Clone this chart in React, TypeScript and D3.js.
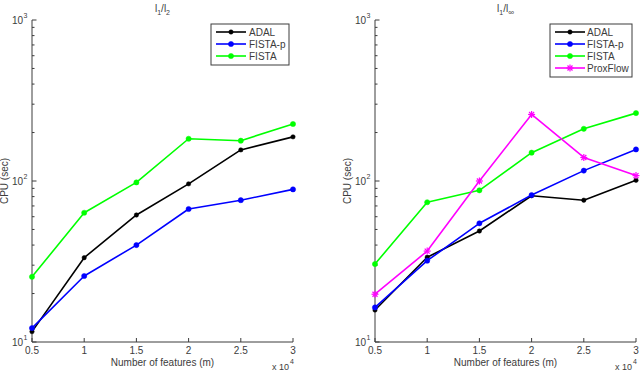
import React from "react";
import * as d3 from "d3";

const features = [5000, 10000, 15000, 20000, 25000, 30000];
const xTickLabels = ["0.5", "1", "1.5", "2", "2.5", "3"];

// l1/l2 panel
const l2ADAL = [11.6, 33.4, 61.5, 96, 156, 188];
const l2FISTAp = [12.2, 25.7, 40, 67, 76, 88.7];
const l2FISTA = [25.4, 63.5, 98, 183, 178, 226];

// l1/linf panel
const liADAL = [15.8, 33.6, 48.9, 81, 76, 101];
const liFISTAp = [16.4, 32, 54.6, 81.8, 116, 157];
const liFISTA = [30.5, 73.8, 87.5, 150, 211, 264];
const liProxFlow = [19.8, 36.7, 100, 259, 140, 108];

const COLORS: Record<string, string> = {
  ADAL: "#000000",
  "FISTA-p": "#0000ff",
  FISTA: "#00ff00",
  ProxFlow: "#ff00ff",
};

type Series = { name: string; values: number[] };

const FONT = "Liberation Sans, Arial, Helvetica, sans-serif";
const AX = "#3c3c3c";

function Marker({ x, y, name }: { x: number; y: number; name: string }) {
  const c = COLORS[name];
  if (name === "ProxFlow") {
    const s = 3.5;
    return (
      <g stroke={c} strokeWidth={1.2}>
        <line x1={x - s} y1={y} x2={x + s} y2={y} />
        <line x1={x} y1={y - s} x2={x} y2={y + s} />
        <line x1={x - 2.5} y1={y - 2.5} x2={x + 2.5} y2={y + 2.5} />
        <line x1={x - 2.5} y1={y + 2.5} x2={x + 2.5} y2={y - 2.5} />
      </g>
    );
  }
  const r = name === "ADAL" ? 2.2 : 2.6;
  return <circle cx={x} cy={y} r={r} fill={c} stroke={c} strokeWidth={0.5} />;
}

function Panel({
  x0,
  x1,
  series,
  title,
  legendBox,
}: {
  x0: number;
  x1: number;
  series: Series[];
  title: React.ReactNode;
  legendBox: { x: number; w: number; lineX1: number; lineX2: number; textX: number };
}) {
  const yTop = 20;
  const yBot = 342;
  const xs = d3.scaleLinear().domain([5000, 30000]).range([x0, x1]);
  const ys = d3.scaleLog().domain([10, 1000]).range([yBot, yTop]);
  const line = d3
    .line<number>()
    .x((_, i) => xs(features[i]))
    .y((v) => ys(v));

  const minorTicks: number[] = [];
  for (const dec of [10, 100]) for (let k = 2; k <= 9; k++) minorTicks.push(dec * k);
  const majorTicks = [10, 100, 1000];
  const exps = ["1", "2", "3"];

  const legTop = 24;
  const rowH = 12;
  const legH = series.length * rowH + 5;
  const midX = (x0 + x1) / 2;

  return (
    <g fontFamily={FONT}>
      {/* axes */}
      <line x1={x0} y1={yTop} x2={x0} y2={yBot} stroke={AX} strokeWidth={1} />
      <line x1={x0} y1={yBot} x2={x1} y2={yBot} stroke={AX} strokeWidth={1} />
      {features.map((f, i) => (
        <g key={"xt" + i}>
          <line x1={xs(f)} y1={yBot} x2={xs(f)} y2={yBot - 4} stroke={AX} />
          <text x={xs(f)} y={yBot + 12} fontSize={10} textAnchor="middle" fill={AX}>
            {xTickLabels[i]}
          </text>
        </g>
      ))}
      {minorTicks.map((t) => (
        <line key={"mt" + t} x1={x0} y1={ys(t)} x2={x0 + 2.5} y2={ys(t)} stroke={AX} />
      ))}
      {majorTicks.map((t, i) => (
        <g key={"yt" + t}>
          <line x1={x0} y1={ys(t)} x2={x0 + 4.5} y2={ys(t)} stroke={AX} />
          <text x={x0 - 9} y={ys(t) + 3.5} fontSize={10} textAnchor="end" fill={AX}>
            10
          </text>
          <text x={x0 - 8.5} y={ys(t) - 2.5} fontSize={7} textAnchor="start" fill={AX}>
            {exps[i]}
          </text>
        </g>
      ))}
      <text
        transform={`translate(${x0 - 24},${ys(100)}) rotate(-90)`}
        fontSize={10}
        textAnchor="middle"
        fill={AX}
      >
        CPU (sec)
      </text>
      <text x={midX} y={366} fontSize={10} textAnchor="middle" fill={AX}>
        Number of features (m)
      </text>
      <text x={x1 - 21} y={370} fontSize={9} fill={AX}>
        x 10
      </text>
      <text x={x1 - 3} y={364} fontSize={7} fill={AX}>
        4
      </text>
      <text x={midX} y={12} fontSize={10} textAnchor="middle" fill={AX}>
        {title}
      </text>

      {/* series */}
      {series.map((s) => (
        <g key={s.name}>
          <path
            d={line(s.values) || ""}
            fill="none"
            stroke={COLORS[s.name]}
            strokeWidth={1.6}
            strokeLinejoin="round"
          />
          {s.values.map((v, i) => (
            <Marker key={i} x={xs(features[i])} y={ys(v)} name={s.name} />
          ))}
        </g>
      ))}

      {/* legend */}
      <rect
        x={legendBox.x}
        y={legTop}
        width={legendBox.w}
        height={legH}
        fill="#fff"
        stroke={AX}
        strokeWidth={1}
      />
      {series.map((s, i) => {
        const y = legTop + 8 + i * rowH;
        return (
          <g key={"lg" + s.name}>
            <line
              x1={legendBox.lineX1}
              y1={y}
              x2={legendBox.lineX2}
              y2={y}
              stroke={COLORS[s.name]}
              strokeWidth={1.6}
            />
            <Marker x={(legendBox.lineX1 + legendBox.lineX2) / 2} y={y} name={s.name} />
            <text x={legendBox.textX} y={y + 3.5} fontSize={10} fill={AX}>
              {s.name}
            </text>
          </g>
        );
      })}
    </g>
  );
}

export default function App() {
  const leftSeries: Series[] = [
    { name: "ADAL", values: l2ADAL },
    { name: "FISTA-p", values: l2FISTAp },
    { name: "FISTA", values: l2FISTA },
  ];
  const rightSeries: Series[] = [
    { name: "ADAL", values: liADAL },
    { name: "FISTA-p", values: liFISTAp },
    { name: "FISTA", values: liFISTA },
    { name: "ProxFlow", values: liProxFlow },
  ];
  return (
    <svg
      width={640}
      height={372}
      style={{ position: "absolute", left: 0, top: 0, background: "#fff" }}
    >
      <rect width={640} height={372} fill="#fff" />
      <Panel
        x0={32}
        x1={293}
        series={leftSeries}
        title={
          <>
            <tspan>l</tspan>
            <tspan fontSize={7} dy={3}>1</tspan>
            <tspan dy={-3}>/l</tspan>
            <tspan fontSize={7} dy={3}>2</tspan>
          </>
        }
        legendBox={{ x: 211, w: 78, lineX1: 216, lineX2: 246, textX: 249 }}
      />
      <Panel
        x0={375}
        x1={636}
        series={rightSeries}
        title={
          <>
            <tspan>l</tspan>
            <tspan fontSize={7} dy={3}>1</tspan>
            <tspan dy={-3}>/l</tspan>
            <tspan fontSize={8} dy={3}>∞</tspan>
          </>
        }
        legendBox={{ x: 550, w: 82, lineX1: 555, lineX2: 585, textX: 587 }}
      />
    </svg>
  );
}
